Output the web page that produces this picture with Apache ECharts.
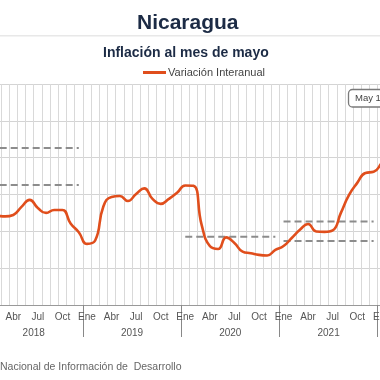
<!DOCTYPE html>
<html>
<head>
<meta charset="utf-8">
<script src="https://cdn.jsdelivr.net/npm/echarts@6/dist/echarts.min.js"></script>
<style>html,body{margin:0;padding:0;background:#fff}#c{width:380px;height:380px}</style>
</head>
<body>
<div id="c"></div>
<script>
// ---- data ----
var years = ['2018', '2019', '2020', '2021', '2022'];
var monthNames = ['Ene', 'Feb', 'Mar', 'Abr', 'May', 'Jun', 'Jul', 'Ago', 'Sep', 'Oct', 'Nov', 'Dic'];
var monthCount = 53; // Ene 2018 .. May 2022
// Variación interanual (%), Ene 2018 .. May 2022
var inflation = [
  4.85, 4.84, 4.81, 4.89, 5.33, 5.71, 5.27, 5.00, 5.16, 5.16, 4.43, 3.95,
  3.32, 3.50, 5.35, 5.87, 5.92, 5.65, 6.03, 6.33, 5.76, 5.49, 5.76, 6.09,
  6.49, 6.47, 4.35, 3.20, 3.04, 3.67, 3.37, 2.90, 2.81, 2.72, 2.69, 2.99,
  3.20, 3.64, 4.08, 4.40, 3.99, 3.97, 4.05, 5.00, 5.98, 6.63, 7.17, 7.23,
  7.72, 8.30, 9.00, 9.70, 10.40
];
// target ranges per year
var targetYears = [0, 2, 3];
var targetUpper = [8.52, 3.70, 4.53];
var targetLower = [6.52, null, 3.48];
var yTicks = [0, 2, 4, 6, 8, 10, 12];
var seriesName = 'Variación Interanual';
var tagText = 'May 10.66%';

// ---- build ----
var categories = [];
for (var i = 0; i < monthCount; i++) categories.push(monthNames[i % 12] + ' ' + years[Math.floor(i / 12)]);

var dashStyle = { color: '#8c8c8c', width: 2, type: [7, 4] };

function targetSeriesList(vals, tag) {
  var out = [];
  targetYears.forEach(function (y, k) {
    if (vals[k] == null) return;
    var arr = [];
    for (var i = 0; i < monthCount; i++) arr.push(null);
    for (var m = 0; m < 12; m++) arr[y * 12 + m] = vals[k];
    out.push({ name: tag + k, type: 'line', data: arr, symbol: 'none', connectNulls: false, lineStyle: dashStyle, z: 2, silent: true });
  });
  return out;
}

var chart = echarts.init(document.getElementById('c'));
var FONT = '"Liberation Sans", Arial, sans-serif';
var monthW = 8.19;
var gridLeft = -15.4;
var gridRight = 380 - (gridLeft + monthCount * monthW);

var series = targetSeriesList(targetUpper, 'u').concat(targetSeriesList(targetLower, 'l'));
series.push({ name: seriesName, type: 'line', data: inflation, symbol: 'none', smooth: 0.5, color: '#e04e1c', lineStyle: { color: '#e04e1c', width: 2.6 }, z: 3 });

chart.setOption({
  animation: false,
  textStyle: { fontFamily: FONT },
  title: [
    { text: 'Nicaragua', left: 132, top: 8, textStyle: { fontSize: 21, fontWeight: 'bold', color: '#1c2b45', fontFamily: FONT } },
    { text: 'Inflación al mes de mayo', left: 98, top: 41, textStyle: { fontSize: 14, fontWeight: 'bold', color: '#1c2b45', fontFamily: FONT } }
  ],
  legend: {
    data: [{ name: seriesName, icon: 'rect' }],
    left: 143, top: 67, padding: 0,
    itemWidth: 23, itemHeight: 3, itemGap: 4,
    textStyle: { fontSize: 11, color: '#444', fontFamily: FONT, padding: [0, 0, 0, -3] }
  },
  grid: { left: gridLeft, right: gridRight, top: 84, bottom: 75, containLabel: false, outerBoundsMode: 'none' },
  xAxis: [
    {
      type: 'category', data: categories, boundaryGap: true, position: 'bottom',
      axisLine: { lineStyle: { color: '#999', width: 1 } },
      axisTick: { show: false },
      axisLabel: {
        interval: function (idx) { return idx % 3 === 0; },
        formatter: function (v) { return v.split(' ')[0]; },
        fontSize: 10, color: '#555', margin: 7, fontFamily: FONT
      },
      splitLine: { show: true, interval: 0, lineStyle: { color: '#d9d9d9', width: 1 } }
    },
    {
      type: 'value', min: 0, max: monthCount, interval: 6, position: 'bottom',
      axisLine: { show: false }, axisTick: { show: false }, splitLine: { show: false },
      axisLabel: {
        fontSize: 10, color: '#555', margin: 23, fontFamily: FONT,
        formatter: function (v) { return (v % 12 === 6) ? years[Math.floor(v / 12)] : ''; }
      }
    },
    {
      type: 'value', min: 0, max: monthCount, interval: 12, position: 'bottom',
      axisLine: { show: false }, splitLine: { show: false }, axisLabel: { show: false },
      axisTick: { show: true, length: 32, lineStyle: { color: '#888', width: 1 } }
    }
  ],
  yAxis: {
    type: 'value', min: yTicks[0], max: yTicks[yTicks.length - 1], interval: 2,
    axisLine: { show: false }, axisTick: { show: false },
    axisLabel: { show: false },
    splitLine: { lineStyle: { color: '#d4d4d4', width: 1 } }
  },
  series: series,
  graphic: [
    { type: 'rect', shape: { x: 0, y: 35, width: 380, height: 1.5 }, style: { fill: '#e8e8e8' }, silent: true },
    { type: 'rect', shape: { x: 348.5, y: 89.5, width: 70, height: 17.5, r: 4 }, style: { fill: '#fff', stroke: '#7a7a7a', lineWidth: 1.3 }, z: 10 },
    { type: 'text', x: 355, y: 98.5, style: { text: tagText, fontSize: 9.5, fill: '#444', verticalAlign: 'middle', fontFamily: FONT }, z: 11 },
    { type: 'text', x: 0, y: 367, style: { text: 'Nacional de Información de  Desarrollo', fontSize: 10.5, fill: '#666', verticalAlign: 'middle', fontFamily: FONT } }
  ]
});
</script>
</body>
</html>
